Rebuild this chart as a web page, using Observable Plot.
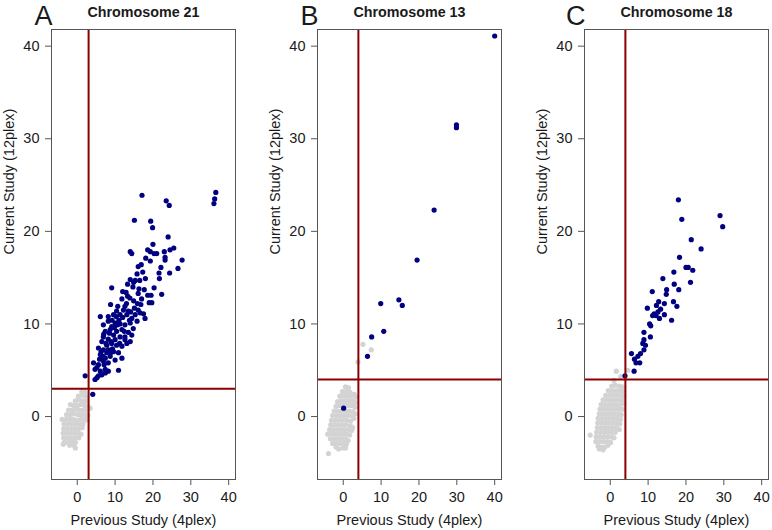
<!DOCTYPE html>
<html>
<head>
<meta charset="utf-8">
<script src="https://cdn.jsdelivr.net/npm/d3@7"></script>
<script src="https://cdn.jsdelivr.net/npm/@observablehq/plot@0.6"></script>
<style>
  body { margin: 0; background: white; }
  #row { display: flex; width: 772px; height: 530px; }
</style>
</head>
<body>
<div id="row"></div>
<script>
// ---------- data ----------
const panelLetters = ["A", "B", "C"];
const panelTitles = ["Chromosome 21", "Chromosome 13", "Chromosome 18"];
const thresholds = [3, 4, 4];
const xTicks = [0, 10, 20, 30, 40];
const yTicks = [0, 10, 20, 30, 40];
const xLabel = "Previous Study (4plex)";
const yLabel = "Current Study (12plex)";

// Chromosome 21: unaffected (gray) and affected (navy)
const chr21Gray = [
  [1.2,2.7],[2.0,2.6],
  [0.3,2.2],[1.2,2.3],[2.2,2.2],
  [-0.5,1.7],[0.5,1.8],[1.5,1.7],[2.4,1.7],
  [-1.8,1.3],[-0.9,1.2],[0.1,1.2],[1.0,1.3],[2.0,1.2],[2.7,1.1],
  [3.4,0.9],
  [-2.3,0.7],[-1.4,0.7],[-0.4,0.8],[0.6,0.7],[1.6,0.7],[2.5,0.7],
  [-2.8,0.2],[-1.8,0.2],[-0.8,0.3],[0.2,0.2],[1.2,0.2],[2.2,0.2],[2.8,0.1],
  [-4.0,-0.3],[-3.0,-0.3],[-2.0,-0.3],[-1.0,-0.3],[0.0,-0.4],[1.0,-0.3],[2.0,-0.3],[2.7,-0.4],
  [-3.5,-0.8],[-2.5,-0.8],[-1.5,-0.8],[-0.5,-0.8],[0.5,-0.8],[1.5,-0.8],
  [-3.6,-1.3],[-2.6,-1.3],[-1.6,-1.3],[-0.6,-1.3],[0.4,-1.3],[1.3,-1.2],
  [-3.7,-1.8],[-2.7,-1.8],[-1.7,-1.8],[-0.7,-1.8],[0.3,-1.8],[1.0,-1.9],
  [-3.6,-2.3],[-2.6,-2.3],[-1.6,-2.3],[-0.6,-2.3],[0.4,-2.3],
  [-3.4,-2.8],[-2.4,-2.8],[-1.4,-2.8],[-0.5,-2.8],
  [-3.7,-3.0],[-2.0,-3.1],[-0.9,-3.1],
  [-0.5,-3.4]
];
const chr21Navy = [
  [17.1,23.9],[23.5,23.3],[24.3,22.8],[36.6,24.2],[36.3,23.5],[36.1,23.0],
  [15.1,21.2],[19.4,21.1],[19.9,20.4],[24.0,19.4],[20.0,18.6],[25.5,18.2],
  [24.5,18.0],[23.0,17.8],[18.6,18.0],[19.3,17.8],[20.3,17.6],[21.0,17.6],
  [14.0,17.8],[14.4,17.6],[23.2,17.2],[23.2,16.9],[27.7,16.9],[18.1,17.1],
  [19.3,16.8],[16.9,16.4],[16.1,16.2],[22.1,16.1],[21.6,15.5],[26.6,16.0],
  [24.4,15.5],[21.7,14.9],[15.8,15.4],[15.3,14.7],[16.5,14.7],[14.0,14.8],
  [14.9,14.5],[13.3,14.3],[9.1,13.9],[14.7,14.0],[20.3,13.9],[12.0,13.5],
  [12.9,13.4],[16.1,13.3],[17.7,13.7],[18.6,13.1],[19.5,13.1],[22.3,13.2],
  [13.3,13.0],[13.9,12.8],[11.8,12.7],[17.0,12.7],[14.9,12.5],[19.0,12.3],
  [19.7,12.3],[15.9,12.2],[16.8,12.1],[8.8,12.1],[10.7,11.9],[12.6,11.9],[15.1,11.7],
  [9.6,11.0],[11.3,11.0],[13.1,11.0],[15.3,11.0],[17.5,11.1],[17.9,10.6],
  [14.4,10.6],[10.4,11.4],[12.2,11.5],[16.1,11.5],[8.2,10.8],[6.1,10.8],
  [6.9,9.9],[8.2,10.3],[9.1,9.7],[10.0,10.1],[11.3,10.0],[12.6,9.9],[14.0,10.1],
  [14.8,9.5],[11.8,9.4],[10.4,9.2],[8.7,9.4],[7.4,9.2],[13.5,9.1],
  [14.4,8.8],[12.6,8.6],[11.3,8.6],[9.6,8.8],[8.2,8.35],[6.9,8.6],[6.5,8.1],
  [7.8,7.7],[9.1,7.9],[10.4,7.7],[11.8,7.6],[13.1,7.9],[14.0,8.1],[12.6,8.3],[10.0,8.3],
  [5.6,7.4],[6.9,7.2],[8.2,7.2],[9.6,7.0],[10.9,6.9],[6.1,6.7],[7.4,6.3],
  [8.7,6.5],[10.0,6.1],[11.8,6.3],[7.8,6.9],
  [4.3,5.8],[5.6,5.6],[6.9,6.0],[8.2,5.8],[7.4,5.1],[4.7,5.1],[6.1,4.9],
  [7.4,4.7],[8.2,4.9],[10.9,5.0],[5.2,4.2],[5.6,4.4],[6.5,4.5],[4.7,4.0],
  [2.1,4.4],[4.1,2.4],
  [7.0,8.9],[8.5,9.0],[9.8,9.6],[11.0,10.4],[12.0,10.7],[13.5,11.4],[10.3,10.8],
  [8.9,8.1],[7.6,7.9],[9.3,7.3],[6.3,7.0],[5.9,6.2],[7.1,5.6],[8.8,6.9],
  [11.2,7.9],[12.4,9.2],[13.8,10.4],[15.8,10.3],[16.6,11.2],[14.1,11.3],
  [9.2,10.4],[10.6,9.9],[6.8,6.5],[5.2,5.3],[16.3,13.8],[18.0,14.9],[17.3,15.6],[13.0,12.2]
];

// Chromosome 13
const chr13Gray = [
  [0.6,3.2],[1.4,3.1],
  [-0.2,2.7],[0.8,2.7],[1.8,2.6],[2.9,2.4],
  [-0.9,2.2],[0.1,2.2],[1.1,2.2],[2.1,2.2],[3.4,2.1],
  [-1.5,1.6],[-0.5,1.7],[0.5,1.7],[1.5,1.7],[2.6,1.7],[3.2,1.5],
  [-1.9,1.1],[-0.9,1.2],[0.1,1.2],[1.1,1.2],[2.1,1.2],[3.1,1.0],
  [-2.4,0.6],[-1.4,0.6],[-0.4,0.6],[0.6,0.6],[1.6,0.6],[2.6,0.5],[3.1,0.3],
  [-2.8,0.1],[-1.8,0.1],[-0.8,0.1],[0.2,0.1],[1.2,0.1],[2.2,0.1],[2.8,-0.2],
  [-3.1,-0.4],[-2.1,-0.4],[-1.1,-0.4],[-0.1,-0.4],[0.9,-0.4],[1.9,-0.5],
  [-3.3,-0.9],[-2.3,-0.9],[-1.3,-0.9],[-0.3,-0.9],[0.7,-0.9],[1.9,-1.0],[2.5,-1.2],
  [-3.6,-1.4],[-2.6,-1.4],[-1.6,-1.4],[-0.6,-1.4],[0.4,-1.4],[1.5,-1.4],[2.2,-1.5],
  [-4.1,-1.9],[-3.0,-1.9],[-2.0,-1.9],[-1.0,-1.9],[0.0,-1.9],[1.0,-1.9],[1.7,-2.0],
  [-3.4,-2.4],[-2.4,-2.4],[-1.4,-2.4],[-0.4,-2.4],[0.6,-2.4],[1.3,-2.6],
  [-2.8,-2.9],[-1.8,-2.9],[-0.8,-2.9],[0.2,-2.9],[0.8,-3.0],
  [-1.9,-3.3],[-1.2,-3.5],[0.0,-3.4],[0.6,-3.4],
  [-3.9,-4.0],
  [3.9,5.9],[5.2,7.8],[7.4,7.2]
];
const chr13Navy = [
  [40.0,41.1],[29.9,31.5],[29.9,31.2],[24.0,22.3],[19.5,16.9],
  [9.9,12.2],[14.7,12.6],[15.6,12.0],[10.7,9.2],[7.5,8.6],[6.4,6.5],
  [0.1,0.9]
];

// Chromosome 18
const chr18Gray = [
  [0.4,3.3],[1.3,3.4],[2.3,3.3],[3.2,3.2],
  [-0.5,2.8],[0.5,2.8],[1.5,2.8],[2.5,2.8],[3.4,2.7],
  [-1.2,2.3],[-0.2,2.3],[0.8,2.3],[1.8,2.3],[2.8,2.3],[3.6,2.2],
  [-1.9,1.8],[-0.9,1.8],[0.1,1.8],[1.1,1.8],[2.1,1.8],[3.1,1.8],
  [-2.4,1.3],[-1.4,1.3],[-0.4,1.3],[0.6,1.3],[1.6,1.3],[2.6,1.3],[3.6,1.4],
  [-2.7,0.8],[-1.7,0.8],[-0.7,0.8],[0.3,0.8],[1.3,0.8],[2.3,0.8],[3.2,0.8],
  [-2.9,0.3],[-1.9,0.3],[-0.9,0.3],[0.1,0.3],[1.1,0.3],[2.1,0.3],[2.9,0.2],
  [-3.2,-0.2],[-2.2,-0.2],[-1.2,-0.2],[-0.2,-0.2],[0.8,-0.2],[1.8,-0.2],[2.7,-0.3],
  [-3.3,-0.7],[-2.3,-0.7],[-1.3,-0.7],[-0.3,-0.7],[0.7,-0.7],[1.7,-0.7],[2.5,-0.8],
  [-3.4,-1.2],[-2.4,-1.2],[-1.4,-1.2],[-0.4,-1.2],[0.6,-1.2],[1.6,-1.2],[2.4,-1.4],
  [-3.6,-1.7],[-2.6,-1.7],[-1.6,-1.7],[-0.6,-1.7],[0.4,-1.7],[1.3,-1.7],
  [-3.7,-2.2],[-2.7,-2.2],[-1.7,-2.2],[-0.7,-2.2],[0.3,-2.2],[1.0,-2.3],
  [-3.8,-2.7],[-2.8,-2.7],[-1.8,-2.7],[-0.8,-2.7],[0.1,-2.8],
  [-3.2,-3.2],[-2.3,-3.3],[-1.4,-3.3],[-0.6,-3.1],
  [-2.9,-3.5],[-1.9,-3.6],
  [-5.3,-2.0],
  [1.6,4.9],[4.6,5.0],[2.8,4.3],[1.0,3.9]
];
const chr18Navy = [
  [18.0,23.4],[18.9,21.3],[29.0,21.7],[29.7,20.5],[21.4,19.1],[24.0,18.1],
  [18.3,17.2],[16.8,15.6],[20.0,16.1],[20.6,16.1],[21.8,15.8],[21.2,14.5],
  [13.9,14.9],[16.9,14.3],[18.1,13.7],[11.1,13.5],[14.9,13.7],[14.8,13.2],
  [16.7,12.4],[12.8,12.4],[14.3,12.2],[12.2,12.0],[17.6,11.9],[9.8,11.7],
  [13.3,11.6],[12.6,11.3],[11.6,11.1],[11.2,10.9],[14.3,11.0],[13.0,10.6],
  [12.1,10.9],[16.2,10.4],[10.4,10.0],[10.7,9.8],[8.9,9.1],[10.6,8.6],
  [8.9,8.3],[8.6,7.9],[9.3,7.7],[8.9,7.2],[8.0,6.8],[5.6,6.8],[7.3,6.5],
  [6.4,6.2],[6.8,5.8],[7.8,5.8],[6.3,4.9],[3.9,4.4]
];

const grays = [chr21Gray, chr13Gray, chr18Gray];
const navys = [chr21Navy, chr13Navy, chr18Navy];

// ---------- layout ----------
const widths = [266, 267, 239];
const marginRights = [31, 32, 4];
const font = "'Liberation Sans', Arial, Helvetica, sans-serif";
const fs = 14.5;

const row = document.getElementById("row");
for (let i = 0; i < 3; i++) {
  const chart = Plot.plot({
    width: widths[i],
    height: 530,
    marginLeft: 51,
    marginRight: marginRights[i],
    marginTop: 29,
    marginBottom: 51,
    style: {fontFamily: font, fontSize: fs + "px", color: "#1a1a1a", background: "white", overflow: "visible"},
    x: {domain: [-6.8, 41.8]},
    y: {domain: [-6.8, 41.8]},
    marks: [
      Plot.dot(grays[i], {x: d => d[0], y: d => d[1], r: 2.6, fill: "#d3d3d3", stroke: "none"}),
      Plot.dot(navys[i], {x: d => d[0], y: d => d[1], r: 2.6, fill: "#000080", stroke: "none"}),
      Plot.ruleX([thresholds[i]], {stroke: "#8b0000", strokeWidth: 2}),
      Plot.ruleY([thresholds[i]], {stroke: "#8b0000", strokeWidth: 2}),
      Plot.frame({stroke: "#555"}),
      Plot.axisX(xTicks, {tickSize: 6, tickPadding: 6, label: null, stroke: "#555", fontSize: fs, fill: "#1a1a1a"}),
      Plot.axisY(yTicks, {tickSize: 6, tickPadding: 6, label: null, stroke: "#555", fontSize: fs, fill: "#1a1a1a"}),
      Plot.text([panelTitles[i]], {text: d => d, frameAnchor: "top", lineAnchor: "middle", dy: -17, fontWeight: "bold", fontSize: 14.3, fill: "#1a1a1a"}),
      Plot.text([panelLetters[i]], {text: d => d, frameAnchor: "top-left", lineAnchor: "middle", textAnchor: "end", dx: 1, dy: -13, fontSize: 27, fill: "#1a1a1a"}),
      Plot.text([yLabel], {text: d => d, frameAnchor: "left", lineAnchor: "middle", rotate: -90, dx: -42, fontSize: fs, fill: "#1a1a1a"}),
      Plot.text([xLabel], {text: d => d, frameAnchor: "bottom", lineAnchor: "middle", dy: 41, fontSize: fs, fill: "#1a1a1a"})
    ]
  });
  row.appendChild(chart);
}
</script>
</body>
</html>
